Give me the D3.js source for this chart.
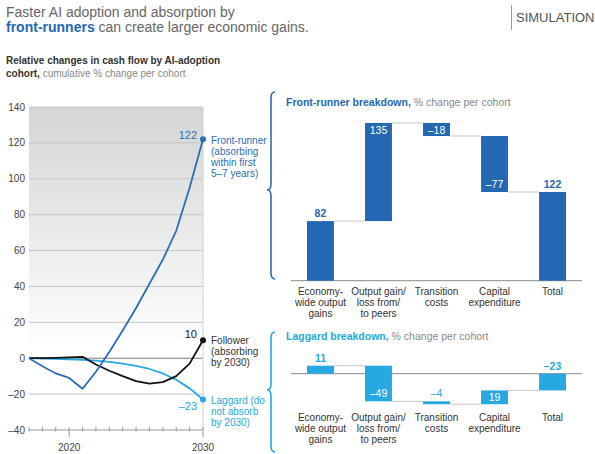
<!DOCTYPE html>
<html>
<head>
<meta charset="utf-8">
<script src="https://cdn.jsdelivr.net/npm/d3@7"></script>
<style>
  html, body { margin: 0; padding: 0; background: #fff; }
  svg { display: block; font-family: "Liberation Sans", Arial, sans-serif; }
</style>
</head>
<body>
<svg id="chart" width="595" height="454"></svg>
<script>
// ---- data ----
const years = [2017, 2018, 2019, 2020, 2021, 2022, 2023, 2024, 2025, 2026, 2027, 2028, 2029, 2030];
const frontRunner = [0, -4.5, -8.5, -11, -17, -7.5, 3.5, 15.5, 28, 41.5, 55, 71, 95, 122];
const follower = [0, 0, 0.2, 0.5, 0.8, -3.5, -7, -10, -12.8, -14.2, -13.3, -10, -3, 10];
const laggard = [0, -0.2, -0.4, -0.6, -0.9, -1.3, -2, -3, -4.3, -6, -8.5, -12, -16.8, -23];
const yTicks = [-40, -20, 0, 20, 40, 60, 80, 100, 120, 140];
const xTickLabels = [2020, 2030];

const categories = [
  ['Economy-', 'wide output', 'gains'],
  ['Output gain/', 'loss from/', 'to peers'],
  ['Transition', 'costs'],
  ['Capital', 'expenditure'],
  ['Total']
];
const frontSteps = [82, 135, -18, -77];   // last bar = total
const laggardSteps = [11, -49, -4, 19];

const BLUE = '#2467b2';
const LIGHT = '#27a8e0';

const svg = d3.select('#chart');

// ---- titles ----
const t1 = svg.append('text').attr('x', 6).attr('y', 17).attr('font-size', 14).attr('fill', '#666');
t1.text('Faster AI adoption and absorption by');
const t2 = svg.append('text').attr('x', 6).attr('y', 32).attr('font-size', 14).attr('fill', '#666');
t2.append('tspan').attr('font-weight', 'bold').attr('fill', BLUE).text('front-runners');
t2.append('tspan').text(' can create larger economic gains.');

svg.append('line').attr('x1', 511.5).attr('x2', 511.5).attr('y1', 5).attr('y2', 30)
  .attr('stroke', '#999').attr('stroke-width', 1);
svg.append('text').attr('x', 516).attr('y', 22).attr('font-size', 13).attr('fill', '#555').text('SIMULATION');

svg.append('text').attr('x', 6).attr('y', 64).attr('font-size', 10).attr('font-weight', 'bold')
  .attr('fill', '#333').text('Relative changes in cash flow by AI-adoption');
const st = svg.append('text').attr('x', 6).attr('y', 76.5).attr('font-size', 10).attr('fill', '#888');
st.append('tspan').attr('font-weight', 'bold').attr('fill', '#333').text('cohort,');
st.append('tspan').text(' cumulative % change per cohort');

// ---- left line chart ----
const x = d3.scaleLinear().domain([2017, 2030]).range([29, 203]);
const y = d3.scaleLinear().domain([-40, 140]).range([430, 107]);

const defs = svg.append('defs');
const grad = defs.append('linearGradient').attr('id', 'bg').attr('x1', 0).attr('x2', 0).attr('y1', 0).attr('y2', 1);
grad.append('stop').attr('offset', '0%').attr('stop-color', '#d5d5d5');
grad.append('stop').attr('offset', '55%').attr('stop-color', '#ebebeb');
grad.append('stop').attr('offset', '100%').attr('stop-color', '#ffffff');

svg.append('rect').attr('x', x(2017)).attr('y', y(140))
  .attr('width', x(2030) - x(2017)).attr('height', y(5) - y(140)).attr('fill', 'url(#bg)');

svg.append('g').selectAll('line').data(yTicks.filter(d => d !== -40 && d !== 0)).join('line')
  .attr('x1', x(2017)).attr('x2', x(2030)).attr('y1', d => y(d)).attr('y2', d => y(d))
  .attr('stroke', '#c6c6c6').attr('stroke-width', 1);
svg.append('line').attr('x1', x(2017)).attr('x2', x(2030)).attr('y1', y(0)).attr('y2', y(0))
  .attr('stroke', '#7a7a7a').attr('stroke-width', 1);
svg.append('line').attr('x1', x(2030)).attr('x2', x(2030)).attr('y1', y(140)).attr('y2', y(-40))
  .attr('stroke', '#d0d0d0').attr('stroke-width', 1);

svg.append('g').selectAll('text').data(yTicks).join('text')
  .attr('x', 25).attr('y', d => y(d) + 3.5).attr('text-anchor', 'end')
  .attr('font-size', 10).attr('fill', '#444')
  .text(d => d < 0 ? '\u2013' + Math.abs(d) : d);

// bottom axis
svg.append('line').attr('x1', x(2017)).attr('x2', x(2030)).attr('y1', y(-40)).attr('y2', y(-40))
  .attr('stroke', '#999');
svg.append('g').selectAll('line').data(years).join('line')
  .attr('x1', d => x(d)).attr('x2', d => x(d))
  .attr('y1', y(-40) - 3)
  .attr('y2', d => xTickLabels.includes(d) ? y(-40) + 7 : y(-40) + 1.5)
  .attr('stroke', '#999');
svg.append('g').selectAll('text').data(xTickLabels).join('text')
  .attr('x', d => x(d)).attr('y', 451).attr('text-anchor', 'middle')
  .attr('font-size', 10).attr('fill', '#444').text(d => d);

const line = d3.line().x((d, i) => x(years[i])).y(d => y(d));
const series = [
  { values: laggard, color: LIGHT },
  { values: follower, color: '#111' },
  { values: frontRunner, color: '#2d6db7' }
];
series.forEach(s => {
  svg.append('path').datum(s.values).attr('d', line)
    .attr('fill', 'none').attr('stroke', s.color).attr('stroke-width', 1.8)
    .attr('stroke-linejoin', 'round');
  svg.append('circle').attr('cx', x(2030)).attr('cy', y(s.values[s.values.length - 1]))
    .attr('r', 3).attr('fill', s.color);
});

const endLabel = (v, color, dy) => svg.append('text')
  .attr('x', x(2030) - 6).attr('y', y(v) + dy).attr('text-anchor', 'end')
  .attr('font-size', 11).attr('fill', color)
  .text(v < 0 ? '\u2013' + Math.abs(v) : v);
endLabel(frontRunner[13], '#2d6db7', 0);
endLabel(follower[13], '#111', -2);
endLabel(laggard[13], LIGHT, 11);

const note = (lines, color, first) => {
  const t = svg.append('text').attr('x', 211).attr('font-size', 10).attr('fill', color);
  lines.forEach((l, i) => t.append('tspan').attr('x', 211).attr('y', first + i * 11).text(l));
};
note(['Front-runner', '(absorbing', 'within first', '5\u20137 years)'], '#2d6db7', 143.5);
note(['Follower', '(absorbing', 'by 2030)'], '#333', 343.5);
note(['Laggard (do', 'not absorb', 'by 2030)'], LIGHT, 403.5);

// ---- braces ----
function brace(x0, y0, y1, ym, color) {
  const w = 4, r = 6;
  const p = `M${x0 + w},${y0} Q${x0},${y0} ${x0},${y0 + r} L${x0},${ym - r} Q${x0},${ym} ${x0 - w},${ym}` +
    ` Q${x0},${ym} ${x0},${ym + r} L${x0},${y1 - r} Q${x0},${y1} ${x0 + w},${y1}`;
  svg.append('path').attr('d', p).attr('fill', 'none').attr('stroke', color).attr('stroke-width', 1.6);
}
brace(271, 92, 279, 190, '#2d6db7');
brace(271, 332, 452, 390, LIGHT);

// ---- waterfalls ----
const xb = d3.scaleBand().domain(d3.range(categories.length)).range([292.5, 580.5])
  .paddingInner(0.536).paddingOuter(0.25);

function waterfall(steps, yScale, color, title, titleY, catY, labelPlace) {
  const bars = [];
  let run = 0;
  steps.forEach(v => { bars.push({ from: run, to: run + v, v }); run += v; });
  bars.push({ from: 0, to: run, v: run });

  const tt = svg.append('text').attr('x', 286).attr('y', titleY).attr('font-size', 10.5).attr('fill', '#888');
  tt.append('tspan').attr('font-weight', 'bold').attr('fill', color).text(title);
  tt.append('tspan').text(' % change per cohort');

  svg.append('line').attr('x1', 291).attr('x2', 582).attr('y1', yScale(0)).attr('y2', yScale(0))
    .attr('stroke', '#888').attr('stroke-width', 1);

  // connectors
  svg.append('g').selectAll('line').data(bars.slice(0, -1)).join('line')
    .attr('x1', (d, i) => xb(i) + xb.bandwidth()).attr('x2', (d, i) => xb(i + 1))
    .attr('y1', d => yScale(d.to)).attr('y2', d => yScale(d.to))
    .attr('stroke', '#c8c8c8').attr('stroke-width', 1);

  svg.append('g').selectAll('rect').data(bars).join('rect')
    .attr('x', (d, i) => xb(i)).attr('width', xb.bandwidth())
    .attr('y', d => yScale(Math.max(d.from, d.to)))
    .attr('height', d => Math.abs(yScale(d.from) - yScale(d.to)))
    .attr('fill', color);

  const fmt = v => v < 0 ? '\u2013' + Math.abs(v) : String(v);
  svg.append('g').selectAll('text').data(bars).join('text')
    .attr('x', (d, i) => xb(i) + xb.bandwidth() / 2)
    .attr('y', (d, i) => {
      const top = yScale(Math.max(d.from, d.to)), bot = yScale(Math.min(d.from, d.to));
      const p = labelPlace[i];
      if (p === 'above') return top - 4;
      if (p === 'top') return top + 11;
      return bot - 4;
    })
    .attr('text-anchor', 'middle').attr('font-size', 10.5)
    .attr('font-weight', (d, i) => labelPlace[i] === 'above' && i !== 2 ? 'bold' : 'normal')
    .attr('fill', (d, i) => labelPlace[i] === 'above' ? color : '#fff')
    .text(d => fmt(d.v));

  const cg = svg.append('g');
  categories.forEach((c, i) => {
    const t = cg.append('text').attr('text-anchor', 'middle').attr('font-size', 10).attr('fill', '#333');
    c.forEach((l, j) => t.append('tspan').attr('x', xb(i) + xb.bandwidth() / 2).attr('y', catY + j * 11).text(l));
  });
}

const pxPerUnit = 0.727;
const yTop = d3.scaleLinear().domain([0, 220]).range([280.7, 280.7 - 220 * pxPerUnit]);
const yBot = d3.scaleLinear().domain([-45, 15]).range([373.7 + 45 * pxPerUnit, 373.7 - 15 * pxPerUnit]);

waterfall(frontSteps, yTop, BLUE, 'Front-runner breakdown,', 106, 295,
  ['above', 'top', 'top', 'bottom', 'above']);
waterfall(laggardSteps, yBot, LIGHT, 'Laggard breakdown,', 339.5, 420.5,
  ['above', 'bottom', 'above', 'top', 'above']);
</script>
</body>
</html>
